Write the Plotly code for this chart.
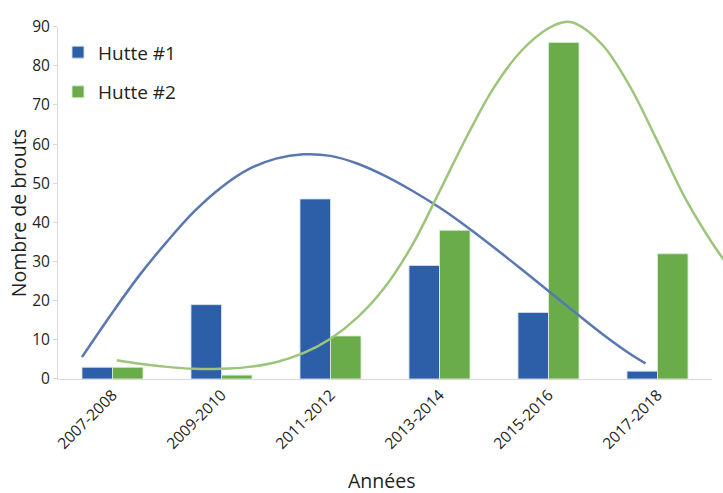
import plotly.graph_objects as go

categories = ["2007-2008", "2009-2010", "2011-2012", "2013-2014", "2015-2016", "2017-2018"]
hutte1 = [3, 19, 46, 29, 17, 2]
hutte2 = [3, 1, 11, 38, 86, 32]

# trend curves (x in category index units)
trend1_x = [-0.28, 0.0, 0.25, 0.5, 0.75, 1.0, 1.25, 1.5, 1.75, 2.0, 2.25, 2.5, 2.75, 3.0, 3.25, 3.5, 3.75, 4.0, 4.25, 4.5, 4.75, 4.89]
trend1_y = [5.6, 17.0, 26.6, 35.1, 42.8, 49.0, 53.6, 56.3, 57.4, 57.0, 55.0, 51.9, 48.1, 43.8, 38.9, 33.6, 28.1, 22.5, 16.9, 11.4, 6.4, 4.0]
trend2_x = [0.04, 0.25, 0.5, 0.75, 1.0, 1.25, 1.5, 1.75, 2.0, 2.25, 2.5, 2.75, 3.0, 3.25, 3.5, 3.75, 4.0, 4.15, 4.25, 4.5, 4.75, 5.0, 5.25, 5.5, 5.62]
trend2_y = [4.8, 3.9, 3.1, 2.6, 2.6, 3.1, 4.3, 6.6, 10.3, 15.8, 23.5, 34.2, 47.9, 61.9, 74.5, 83.8, 89.6, 91.2, 90.8, 85.2, 74.6, 60.7, 46.4, 34.8, 30.0]

W, H = 723, 493
ml, mr, mt, mb = 58, 0, 5, 114
pw, ph = W - ml - mr, H - mt - mb
x_right_px = 712   # end of category axis
y_top_px = 20      # y=90
xdom = (x_right_px - ml) / pw
ydom = (H - mb - y_top_px) / ph

font = "Open Sans, Lato, sans-serif"
txt = "#231f20"

fig = go.Figure()
fig.add_trace(go.Bar(x=categories, y=hutte1, name="Hutte #1",
                     marker=dict(color="#2c5fa8", line=dict(color="rgba(215,222,235,0.9)", width=1)),
                     legendgroup="a"))
fig.add_trace(go.Bar(x=categories, y=hutte2, name="Hutte #2",
                     marker=dict(color="#6aac4a", line=dict(color="rgba(220,235,215,0.9)", width=1)),
                     legendgroup="b"))

x3range = [-0.5, -0.5 + len(categories) / xdom]
y3range = [0, 90 / ydom]
fig.add_trace(go.Scatter(x=trend1_x, y=trend1_y, mode="lines",
                         line=dict(color="#5a77b1", width=2.5, shape="spline", smoothing=1.0),
                         xaxis="x2", yaxis="y2", showlegend=False, hoverinfo="skip"))
fig.add_trace(go.Scatter(x=trend2_x, y=trend2_y, mode="lines",
                         line=dict(color="#9cc57b", width=2.5, shape="spline", smoothing=1.0),
                         xaxis="x2", yaxis="y2", showlegend=False, hoverinfo="skip"))

fig.update_layout(
    width=W, height=H,
    margin=dict(l=ml, r=mr, t=mt, b=mb),
    paper_bgcolor="white", plot_bgcolor="rgba(0,0,0,0)",
    font=dict(family=font, color=txt),
    barmode="group", bargap=0.44, bargroupgap=0,
    xaxis=dict(domain=[0, xdom], showline=True, linecolor="#d9d9d9", linewidth=1,
               showgrid=False, tickangle=-45, tickfont=dict(size=15.5, color=txt), ticks=""),
    yaxis=dict(domain=[0, ydom], range=[0, 90], dtick=10, showline=True, linecolor="#d9d9d9",
               linewidth=1, ticks="outside", ticklen=4, tickcolor="#d9d9d9", showgrid=False,
               zeroline=False, tickfont=dict(size=15.5, color=txt)),
    xaxis2=dict(domain=[0, 1], range=x3range, visible=False, anchor="y2"),
    yaxis2=dict(domain=[0, 1], range=y3range, visible=False, anchor="x2"),
    legend=dict(x=0.0, y=0.942, xanchor="left", yanchor="top", font=dict(size=19),
                bgcolor="rgba(0,0,0,0)", tracegroupgap=12, itemwidth=30),
    showlegend=True,
    annotations=[
        dict(text="Années", xref="paper", yref="paper", x=(381 - ml) / pw, y=-(482 - (H - mb)) / ph,
             xanchor="center", yanchor="middle", showarrow=False, font=dict(size=19.5, color=txt)),
        dict(text="Nombre de brouts", xref="paper", yref="paper", x=(18 - ml) / pw, y=((H - mb) - 210) / ph,
             xanchor="center", yanchor="middle", textangle=-90, showarrow=False, font=dict(size=19.5, color=txt)),
    ],
)

fig.write_html("out.html")
